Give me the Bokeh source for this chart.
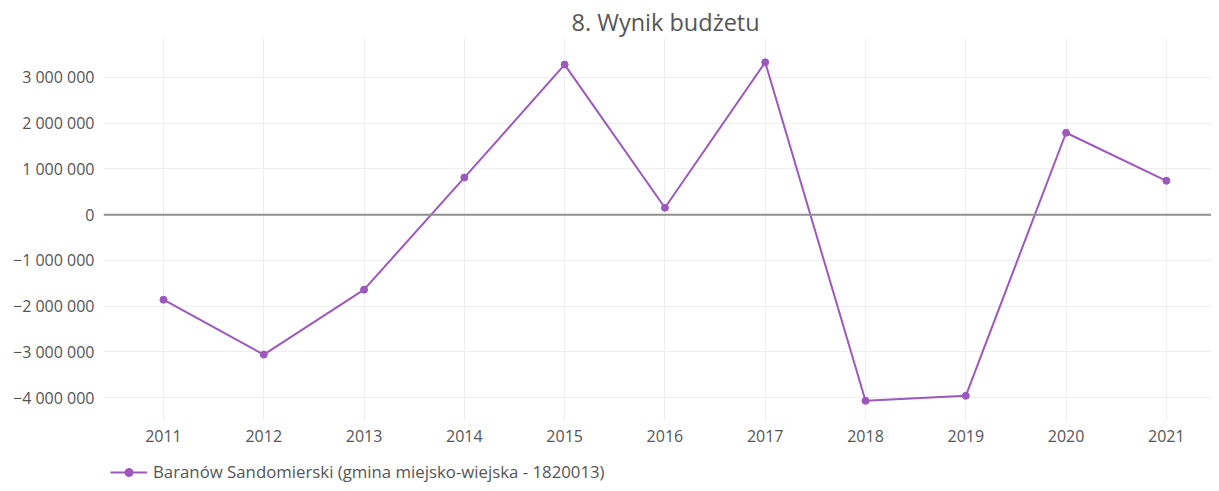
from bokeh.plotting import figure
from bokeh.layouts import column
from bokeh.models import (ColumnDataSource, FixedTicker, CustomJSTickFormatter, Span,
                          Legend, LegendItem, Range1d)
from bokeh.embed import file_html
from bokeh.resources import INLINE

years = [2011, 2012, 2013, 2014, 2015, 2016, 2017, 2018, 2019, 2020, 2021]
values = [-1860000, -3060000, -1640000, 810000, 3280000, 150000, 3330000,
          -4070000, -3960000, 1790000, 740000]
series_name = "Baranów Sandomierski (gmina miejsko-wiejska - 1820013)"
title_text = "8. Wynik budżetu"
y_ticks = [-4000000, -3000000, -2000000, -1000000, 0, 1000000, 2000000, 3000000]

FONT = "Open Sans"
COLOR = "#9c58bd"
TEXT = "#555555"

src = ColumnDataSource(dict(x=years, y=values))

p = figure(width=1211, height=459, output_backend="svg", toolbar_location=None,
           x_range=Range1d(2010.402, 2021.45), y_range=Range1d(-4500000, 3850000),
           min_border_left=103, min_border_right=0, min_border_top=38, min_border_bottom=39)
p.title.text = title_text
p.title.align = "left"
p.title.text_font = FONT
p.title.text_font_size = "23.5px"
p.title.text_font_style = "normal"
p.title.text_color = TEXT
p.title.offset = 468
p.title.standoff = 1

p.outline_line_color = None
p.background_fill_color = "white"

zero = Span(location=0, dimension="width", line_color="#8f8f8f", line_width=2)
p.add_layout(zero)

r_line = p.line("x", "y", source=src, line_color=COLOR, line_width=2)
r_pts = p.scatter("x", "y", source=src, size=7, fill_color=COLOR, line_color=COLOR)

p.xaxis.ticker = FixedTicker(ticks=years)
p.yaxis.ticker = FixedTicker(ticks=y_ticks)
p.yaxis.formatter = CustomJSTickFormatter(code="""
    const neg = tick < 0;
    let s = Math.abs(Math.round(tick)).toString().replace(/\\B(?=(\\d{3})+(?!\\d))/g, ' ');
    return (neg ? '\u2212' : '') + s;
""")
for ax in (p.xaxis[0], p.yaxis[0]):
    ax.axis_line_color = None
    ax.major_tick_line_color = None
    ax.minor_tick_line_color = None
    ax.major_label_text_font = FONT
    ax.major_label_text_font_size = "16px"
    ax.major_label_text_color = TEXT
p.yaxis.major_label_standoff = 3
p.xaxis.major_label_standoff = 3

p.xgrid.grid_line_color = "#eeeeee"
p.ygrid.grid_line_color = "#eeeeee"
p.xgrid.ticker = FixedTicker(ticks=years)
p.ygrid.ticker = FixedTicker(ticks=y_ticks)

# legend strip below the chart (its frame is aligned with the chart's frame)
lf = figure(width=1211, height=24, output_backend="svg", toolbar_location=None,
            x_range=Range1d(0, 1), y_range=Range1d(0, 1),
            x_axis_location=None, y_axis_location=None, min_border=0)
lf.outline_line_color = None
lf.xgrid.visible = False
lf.ygrid.visible = False
offscreen = ColumnDataSource(dict(x=[-10], y=[-10]))
lg_line = lf.line("x", "y", source=offscreen, line_color=COLOR, line_width=2)
lg_pts = lf.scatter("x", "y", source=offscreen, size=7, fill_color=COLOR, line_color=COLOR)
legend = Legend(items=[LegendItem(label=series_name, renderers=[lg_line, lg_pts])],
                location=(7, 0), orientation="horizontal",
                label_text_font=FONT, label_text_font_size="16.8px", label_text_color=TEXT,
                glyph_width=37, border_line_color=None, background_fill_alpha=0,
                margin=0, padding=0, spacing=0, label_standoff=6)
lf.add_layout(legend, "center")

open("out.html", "w").write(file_html(column(p, lf, spacing=0), INLINE))
